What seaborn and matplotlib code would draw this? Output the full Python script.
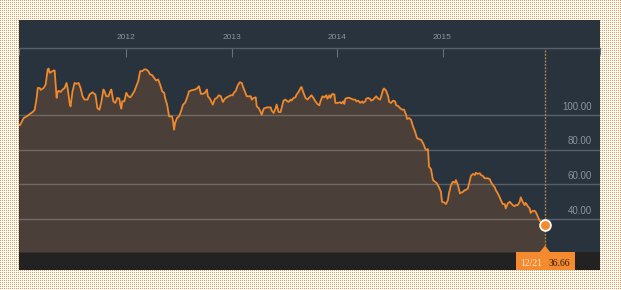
import numpy as np
import matplotlib
matplotlib.use("Agg")
import matplotlib.pyplot as plt
import seaborn as sns
from matplotlib.patches import Rectangle, Polygon
from matplotlib.transforms import IdentityTransform, blended_transform_factory

# ---------------- data (decimal years, price) ----------------
dates = [
    2010.982, 2010.990, 2011.027, 2011.056, 2011.084, 2011.112, 2011.131, 2011.150, 2011.160, 2011.178,
    2011.188, 2011.216, 2011.235, 2011.254, 2011.263, 2011.273, 2011.292, 2011.311, 2011.320, 2011.330,
    2011.339, 2011.348, 2011.358, 2011.377, 2011.396, 2011.415, 2011.433, 2011.443, 2011.462, 2011.471,
    2011.490, 2011.509, 2011.528, 2011.547, 2011.566, 2011.585, 2011.603, 2011.632, 2011.651, 2011.679,
    2011.707, 2011.726, 2011.745, 2011.764, 2011.783, 2011.792, 2011.811, 2011.830, 2011.849, 2011.858,
    2011.877, 2011.896, 2011.915, 2011.934, 2011.943, 2011.953, 2011.962, 2011.981, 2012.000, 2012.019,
    2012.038, 2012.057, 2012.076, 2012.094, 2012.113, 2012.132, 2012.151, 2012.170, 2012.189, 2012.208,
    2012.227, 2012.246, 2012.264, 2012.283, 2012.302, 2012.321, 2012.340, 2012.359, 2012.368, 2012.387,
    2012.406, 2012.425, 2012.434, 2012.444, 2012.453, 2012.463, 2012.481, 2012.500, 2012.519, 2012.538,
    2012.557, 2012.576, 2012.595, 2012.623, 2012.651, 2012.670, 2012.689, 2012.708, 2012.727, 2012.746,
    2012.765, 2012.774, 2012.793, 2012.812, 2012.821, 2012.840, 2012.859, 2012.878, 2012.897, 2012.916,
    2012.935, 2012.954, 2012.973, 2012.991, 2013.010, 2013.020, 2013.039, 2013.058, 2013.077, 2013.096,
    2013.105, 2013.124, 2013.143, 2013.162, 2013.181, 2013.190, 2013.209, 2013.228, 2013.237, 2013.256,
    2013.275, 2013.285, 2013.304, 2013.332, 2013.370, 2013.379, 2013.398, 2013.417, 2013.426, 2013.445,
    2013.464, 2013.473, 2013.492, 2013.511, 2013.520, 2013.539, 2013.558, 2013.568, 2013.587, 2013.605,
    2013.615, 2013.634, 2013.653, 2013.662, 2013.681, 2013.700, 2013.719, 2013.738, 2013.757, 2013.775,
    2013.794, 2013.813, 2013.832, 2013.842, 2013.861, 2013.879, 2013.898, 2013.908, 2013.927, 2013.936,
    2013.955, 2013.974, 2013.983, 2014.002, 2014.031, 2014.040, 2014.059, 2014.068, 2014.078, 2014.097,
    2014.116, 2014.134, 2014.153, 2014.172, 2014.182, 2014.201, 2014.219, 2014.238, 2014.248, 2014.267,
    2014.276, 2014.295, 2014.314, 2014.323, 2014.342, 2014.361, 2014.371, 2014.390, 2014.408, 2014.418,
    2014.437, 2014.446, 2014.465, 2014.484, 2014.494, 2014.512, 2014.531, 2014.550, 2014.560, 2014.579,
    2014.597, 2014.616, 2014.635, 2014.654, 2014.664, 2014.682, 2014.701, 2014.720, 2014.739, 2014.758,
    2014.777, 2014.796, 2014.815, 2014.834, 2014.843, 2014.862, 2014.872, 2014.891, 2014.909, 2014.928,
    2014.947, 2014.966, 2014.985, 2014.995, 2015.014, 2015.033, 2015.051, 2015.061, 2015.080, 2015.099,
    2015.118, 2015.127, 2015.146, 2015.165, 2015.175, 2015.194, 2015.212, 2015.222, 2015.241, 2015.260,
    2015.269, 2015.288, 2015.307, 2015.316, 2015.335, 2015.354, 2015.364, 2015.383, 2015.401, 2015.411,
    2015.430, 2015.449, 2015.458, 2015.477, 2015.496, 2015.505, 2015.524, 2015.543, 2015.553, 2015.572,
    2015.590, 2015.600, 2015.619, 2015.638, 2015.647, 2015.666, 2015.685, 2015.694, 2015.713, 2015.732,
    2015.742, 2015.761, 2015.779, 2015.789, 2015.808, 2015.827, 2015.836, 2015.855, 2015.874, 2015.884,
    2015.903, 2015.922, 2015.972,
]

prices = [
    94.3, 94.0, 98.3, 99.2, 100.6, 101.7, 103.0, 110.0, 115.6, 115.6,
    114.5, 115.6, 117.6, 126.3, 126.8, 124.3, 125.0, 125.7, 125.7, 117.6,
    109.9, 113.3, 114.0, 113.3, 114.7, 115.6, 118.5, 115.6, 107.0, 105.0,
    113.7, 118.5, 118.0, 118.5, 115.6, 110.8, 108.9, 108.9, 111.8, 113.1,
    111.8, 104.0, 103.0, 107.9, 114.7, 113.7, 110.8, 110.8, 113.7, 114.7,
    107.9, 107.0, 109.9, 109.4, 106.0, 103.7, 107.9, 107.9, 112.8, 110.8,
    110.2, 111.8, 113.7, 116.6, 119.5, 125.3, 125.3, 126.3, 126.3, 125.3,
    123.4, 123.0, 121.4, 119.9, 120.5, 117.6, 113.7, 112.8, 109.9, 106.0,
    99.2, 99.2, 99.2, 96.3, 91.5, 95.4, 98.3, 99.2, 102.1, 106.0,
    107.0, 109.9, 113.7, 114.3, 114.7, 115.3, 116.6, 112.2, 112.2, 112.8,
    114.7, 110.8, 109.4, 107.0, 106.0, 109.2, 109.9, 111.4, 110.8, 107.5,
    109.4, 110.2, 110.8, 111.4, 111.4, 112.8, 114.0, 117.2, 118.9, 118.5,
    116.6, 113.7, 110.8, 110.8, 110.8, 108.9, 109.9, 110.2, 105.0, 104.0,
    101.7, 100.2, 103.7, 104.4, 104.4, 102.5, 101.2, 104.0, 106.0, 101.7,
    101.7, 104.0, 108.3, 108.9, 108.3, 107.5, 108.9, 108.3, 109.9, 110.2,
    111.8, 113.3, 115.6, 116.2, 112.8, 109.9, 108.9, 110.2, 111.4, 109.9,
    107.9, 106.4, 105.6, 107.9, 110.8, 110.2, 111.4, 109.4, 111.4, 109.9,
    112.2, 111.8, 107.0, 107.0, 107.3, 106.7, 107.9, 106.4, 109.4, 109.9,
    109.9, 109.4, 108.9, 108.9, 107.9, 108.3, 107.0, 107.9, 107.0, 107.9,
    109.4, 109.9, 109.2, 108.3, 108.9, 110.2, 110.8, 109.4, 108.9, 110.8,
    114.7, 115.3, 114.0, 110.8, 107.5, 107.0, 108.3, 107.9, 105.6, 105.2,
    104.0, 103.1, 103.1, 100.2, 97.7, 98.3, 97.3, 93.4, 90.5, 86.7,
    86.1, 85.7, 83.8, 80.9, 79.9, 80.3, 70.2, 68.7, 62.5, 61.5,
    60.6, 58.3, 55.7, 49.9, 49.6, 48.6, 50.9, 54.8, 59.6, 61.5,
    60.9, 62.5, 59.6, 54.8, 55.1, 55.7, 56.7, 56.7, 57.7, 62.5,
    64.8, 66.0, 65.4, 66.7, 66.0, 66.4, 65.4, 64.8, 63.5, 63.5,
    63.5, 62.9, 61.5, 59.6, 58.3, 56.7, 54.8, 52.5, 50.9, 48.6,
    48.6, 46.1, 49.0, 49.9, 49.3, 48.0, 47.4, 48.0, 48.0, 49.9,
    52.5, 49.9, 48.0, 49.3, 47.4, 46.1, 43.5, 44.7, 44.7, 44.1,
    41.6, 38.9, 36.66,
]

year_ticks = [2012, 2013, 2014, 2015]
year_labels = ["2012", "2013", "2014", "2015"]
grid_values = [40, 60, 80, 100]
last_date_label = "12/21"

# ---------------- styling ----------------
W, H = 621, 290
PANEL = "#29333e"
FILL = "#4a4039"
LINE = "#f0892c"
ORANGE = "#f58a2e"
TXT = "#8d949c"

sns.set_theme(style="dark")
plt.rcParams["font.family"] = ["Liberation Sans", "DejaVu Sans"]

fig = plt.figure(figsize=(W / 100, H / 100), dpi=100)
fig.patch.set_facecolor("white")

# dotted orange background, placed pixel for pixel
bg = np.ones((H, W, 3))
bg[::2, ::2] = np.array([242, 150, 72]) / 255.0
fig.figimage(bg, xo=0, yo=0, origin="upper", zorder=-10)


def px_rect(x0, y0, x1, y1):
    return (x0 / W, 1 - y1 / H), (x1 - x0) / W, (y1 - y0) / H


# panel top band and bottom bar
xy, w, h = px_rect(19, 20, 600, 49)
fig.add_artist(Rectangle(xy, w, h, transform=fig.transFigure, facecolor=PANEL,
                         edgecolor="none", zorder=-5))
xy, w, h = px_rect(19, 252, 600, 270)
fig.add_artist(Rectangle(xy, w, h, transform=fig.transFigure, facecolor="#222222",
                         edgecolor="none", zorder=-5))

# main axes
ax = fig.add_axes([19 / W, 38 / H, 581 / W, 204 / H])
ax.set_facecolor(PANEL)
ymin, ymax = 20.96, 138.67
xmin, xmax = 2010.982, 2016.494
ax.set_xlim(xmin, xmax)
ax.set_ylim(ymin, ymax)

ax.fill_between(dates, prices, ymin, color=FILL, lw=0, zorder=1)
for g in grid_values:
    ax.axhline(g, color="white", alpha=0.22, lw=1.0, zorder=2)
sns.lineplot(x=dates, y=prices, ax=ax, color=LINE, lw=1.3, estimator=None, zorder=3)

ax.axvline(dates[-1], color="#b0803f", lw=1.0, ls=(0, (1.4, 1.0)), zorder=2.5)
ax.scatter([dates[-1]], [prices[-1]], s=60, color=ORANGE, edgecolor="white",
           linewidth=1.3, zorder=5)

# top date axis
ax.grid(False)
ax.xaxis.tick_top()
ax.set_xticks(year_ticks)
ax.set_xticklabels(year_labels)
ax.set_xticks([xmin, xmax], minor=True)
ax.tick_params(axis="x", which="major", top=True, bottom=False, direction="in",
               length=6.5, width=0.8, color="#66707a", pad=5, labelsize=6,
               labelcolor=TXT)
ax.tick_params(axis="x", which="minor", top=True, bottom=False, direction="in",
               length=5, width=0.8, color="#66707a")
ax.set_yticks([])
for s in ["left", "right", "bottom"]:
    ax.spines[s].set_visible(False)
ax.spines["top"].set_visible(True)
ax.spines["top"].set_color("#58616b")
ax.spines["top"].set_linewidth(1.0)
ax.set_xlabel("")
ax.set_ylabel("")

# right-side value labels
trans = blended_transform_factory(ax.transAxes, ax.transData)
for g in grid_values:
    ax.annotate(f"{g:.2f}", xy=(0.9857, g), xycoords=trans, xytext=(0, 3.8),
                textcoords="offset points", ha="right", va="baseline",
                fontsize=7, color=TXT)

# last value flag in bottom bar
xd, yd = ax.transData.transform((dates[-1], prices[-1]))
ident = IdentityTransform()
fig.add_artist(Rectangle((xd - 29, 20), 59, 18, transform=ident, facecolor=ORANGE,
                         edgecolor="none", zorder=6))
fig.add_artist(Polygon([(xd - 5.5, 37.5), (xd + 5.5, 37.5), (xd, 44.5)], closed=True,
                       transform=ident, facecolor=ORANGE, edgecolor="none", zorder=6))
serif = ["Liberation Serif", "DejaVu Serif"]
fig.text(xd - 13.5, 24, last_date_label, transform=ident, ha="center", va="baseline",
         fontsize=7, color="#fde6cc", family=serif, zorder=7)
fig.text(xd + 14.2, 24, f"{prices[-1]:.2f}", transform=ident, ha="center",
         va="baseline", fontsize=7, color="#2b1d12", family=serif, zorder=7)

fig.savefig("out.png", dpi=100)
